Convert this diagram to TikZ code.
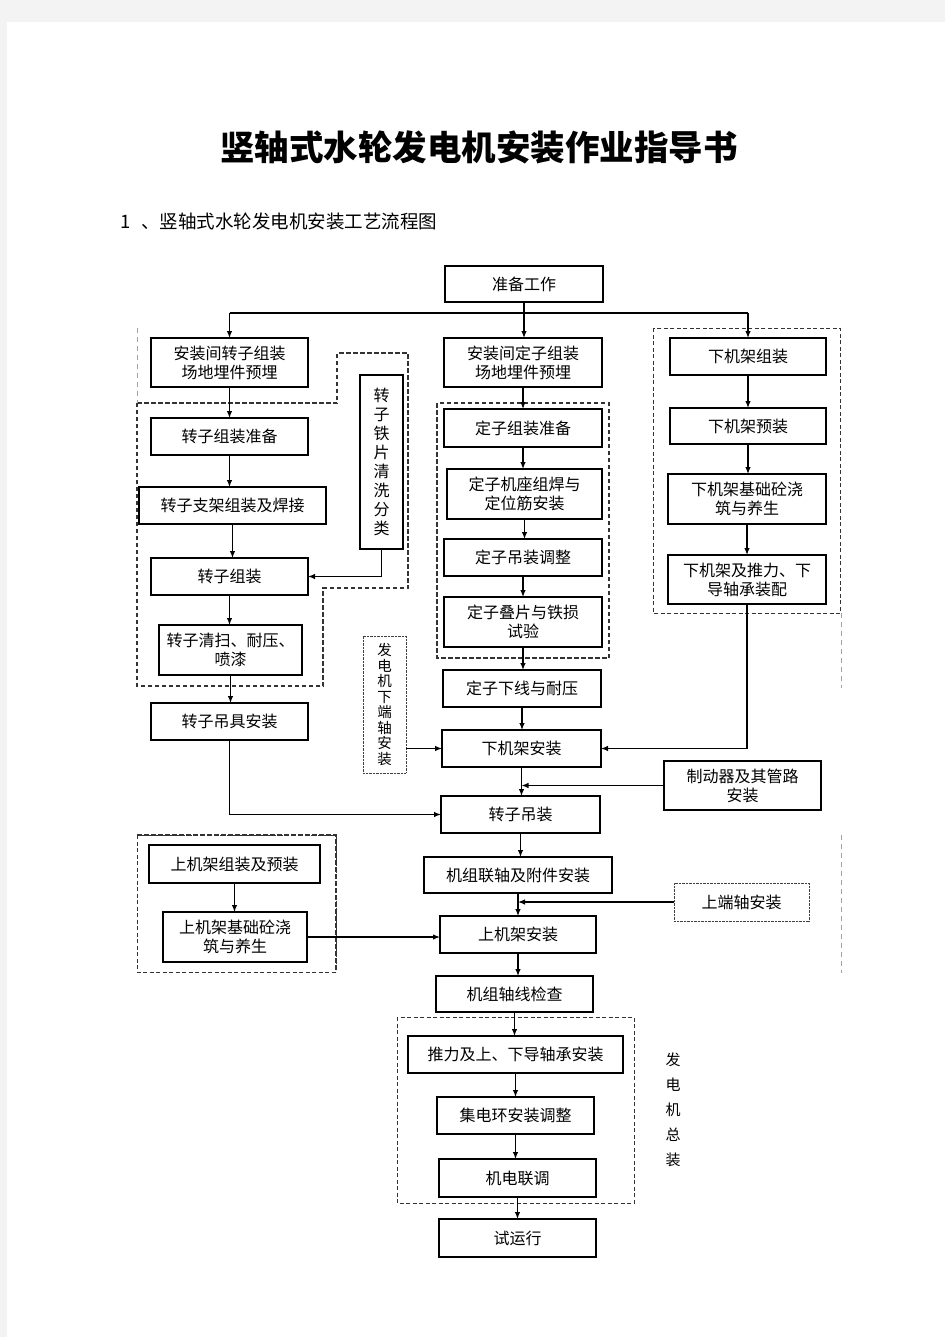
\documentclass[tikz,border=0pt]{standalone}
\usepackage{fontspec}
\setmainfont{Noto Sans CJK SC}
\usetikzlibrary{arrows.meta}
\definecolor{pagegray}{HTML}{F3F3F3}
\definecolor{framedark}{HTML}{333333}
\definecolor{framelight}{HTML}{A0A0A0}
\tikzset{
  box/.style={draw=black, line width=1.1pt, fill=white, inner sep=0pt, outer sep=0pt,
    align=center, font=\fontsize{16}{19}\selectfont},
  dotbox/.style={box, draw=black!75, line width=0.9pt, dash pattern=on 0.8pt off 0.6pt},
  vtext/.style={align=center, font=\fontsize{16}{19}\selectfont},
  ln/.style={draw=black, line width=1.2pt},
  arr/.style={ln, -{Latex[length=7pt,width=5.5pt]}},
  heavydash/.style={draw=framedark, line width=1.5pt, dash pattern=on 4.5pt off 2.5pt},
  thindash/.style={draw=framedark, line width=0.8pt, dash pattern=on 4pt off 2.5pt},
  faintdash/.style={draw=framelight, line width=0.9pt, dash pattern=on 5pt off 4pt},
}
% \bx{name}{left}{top}{right}{bottom}{style}{text}
\newcommand\bx[7]{\node[#6, minimum width={#4-#2}, minimum height={#5-#3}] (#1) at ({(#2+#4)/2},{(#3+#5)/2}) {#7};}
\newcommand\vconn[2]{\draw[arr] (#1.south) -- (#1.south |- #2.north);}
\begin{document}
\begin{tikzpicture}[x=1pt,y=-1pt]
\useasboundingbox (0,0) rectangle (945,1337);
\fill[pagegray] (0,0) rectangle (945,1337);
\fill[white] (7,22) rectangle (945,1337);

% titles
\node[font=\fontsize{34.5}{40}\selectfont\bfseries] (title) at (479,147) {竖轴式水轮发电机安装作业指导书};
\node[anchor=west, font=\fontsize{18.5}{22}\selectfont, inner sep=0pt] (subtitle) at (120,221) {1\hspace{11pt}、竖轴式水轮发电机安装工艺流程图};

% dashed frames
\draw[heavydash] (137,403) -- (337,403) -- (337,353) -- (408,353) -- (408,588) -- (323,588) -- (323,686) -- (137,686) -- cycle;
\draw[faintdash] (137,328) -- (137,403);
\draw[heavydash] (437,403) rectangle (609,658);
\draw[thindash] (653,328) rectangle (840,613);
\draw[faintdash] (841,613) -- (841,688);
\draw[thindash] (137,835) rectangle (336,972);
\draw[heavydash] (137,835) -- (336,835) -- (336,972);
\draw[faintdash] (841,835) -- (841,973);
\draw[thindash] (397,1017) rectangle (634,1203);

% boxes
\bx{zb}{445}{266}{603}{302}{box}{准备工作}
\bx{a1}{151}{338}{308}{387}{box}{安装间转子组装\\场地埋件预埋}
\bx{a2}{151}{418}{308}{455}{box}{转子组装准备}
\bx{a3}{139}{487}{326}{524}{box}{转子支架组装及焊接}
\bx{a4}{151}{558}{308}{595}{box}{转子组装}
\bx{a5}{159}{625}{302}{675}{box}{转子清扫、耐压、\\喷漆}
\bx{a6}{151}{703}{308}{740}{box}{转子吊具安装}
\bx{tp}{360}{375}{403}{549}{box}{转\\子\\铁\\片\\清\\洗\\分\\类}
\bx{b1}{444}{338}{602}{387}{box}{安装间定子组装\\场地埋件预埋}
\bx{b2}{444}{409}{602}{447}{box}{定子组装准备}
\bx{b3}{447}{469}{602}{519}{box}{定子机座组焊与\\定位筋安装}
\bx{b4}{444}{539}{602}{576}{box}{定子吊装调整}
\bx{b5}{444}{597}{602}{647}{box}{定子叠片与铁损\\试验}
\bx{b6}{443}{670}{601}{707}{box}{定子下线与耐压}
\bx{c1}{670}{338}{826}{375}{box}{下机架组装}
\bx{c2}{670}{408}{826}{444}{box}{下机架预装}
\bx{c3}{668}{474}{826}{524}{box}{下机架基础砼浇\\筑与养生}
\bx{c4}{668}{555}{826}{604}{box}{下机架及推力、下\\导轴承装配}
\bx{fd}{363}{636}{406}{773}{dotbox, font=\fontsize{14.5}{15.5}\selectfont}{发\\电\\机\\下\\端\\轴\\安\\装}
\bx{m1}{442}{730}{601}{767}{box}{下机架安装}
\bx{zdq}{664}{761}{821}{810}{box}{制动器及其管路\\安装}
\bx{m2}{441}{796}{600}{833}{box}{转子吊装}
\bx{m3}{424}{857}{612}{893}{box}{机组联轴及附件安装}
\bx{d1}{149}{845}{320}{883}{box}{上机架组装及预装}
\bx{d2}{163}{912}{307}{962}{box}{上机架基础砼浇\\筑与养生}
\bx{sdz}{674}{883}{809}{921}{dotbox}{上端轴安装}
\bx{m4}{440}{916}{596}{953}{box}{上机架安装}
\bx{m5}{436}{976}{593}{1012}{box}{机组轴线检查}
\bx{e1}{408}{1036}{623}{1073}{box}{推力及上、下导轴承安装}
\bx{e2}{437}{1097}{594}{1134}{box}{集电环安装调整}
\bx{e3}{439}{1159}{596}{1197}{box}{机电联调}
\bx{e4}{439}{1219}{596}{1257}{box}{试运行}

\node[vtext, font=\fontsize{15}{25}\selectfont] (zz) at (673,1110) {发\\电\\机\\总\\装};

% top distribution
\coordinate (hl) at (0,313);
\draw[ln] (a1.north |- hl) -- (c1.north |- hl);
\draw[arr] (zb.south) -- (zb.south |- b1.north);
\draw[arr] (a1.north |- hl) -- (a1.north);
\draw[arr] (c1.north |- hl) -- (c1.north);

% rotor chain
\vconn{a1}{a2}
\vconn{a2}{a3}
\vconn{a3}{a4}
\vconn{a4}{a5}
\vconn{a5}{a6}
\draw[arr] (tp.south) |- (a4.east);

% stator and main chain
\vconn{b1}{b2}
\vconn{b2}{b3}
\vconn{b3}{b4}
\vconn{b4}{b5}
\vconn{b5}{b6}
\vconn{b6}{m1}
\vconn{m1}{m2}
\vconn{m2}{m3}
\vconn{m3}{m4}
\vconn{m4}{m5}
\vconn{m5}{e1}
\vconn{e1}{e2}
\vconn{e2}{e3}
\vconn{e3}{e4}

% lower frame chain
\vconn{c1}{c2}
\vconn{c2}{c3}
\vconn{c3}{c4}
\draw[arr] (c4.south) |- (m1.east);

% side inputs
\draw[arr] (fd.east |- m1.west) -- (m1.west);
\draw[arr] (zdq.west) -- (zdq.west -| m1.south);
\draw[arr] (a6.south) |- (m2.west);
\draw[arr] (sdz.west) -- (sdz.west -| m3.south);
\vconn{d1}{d2}
\draw[arr] (d2.east) -- (d2.east -| m4.west);
\end{tikzpicture}
\end{document}
